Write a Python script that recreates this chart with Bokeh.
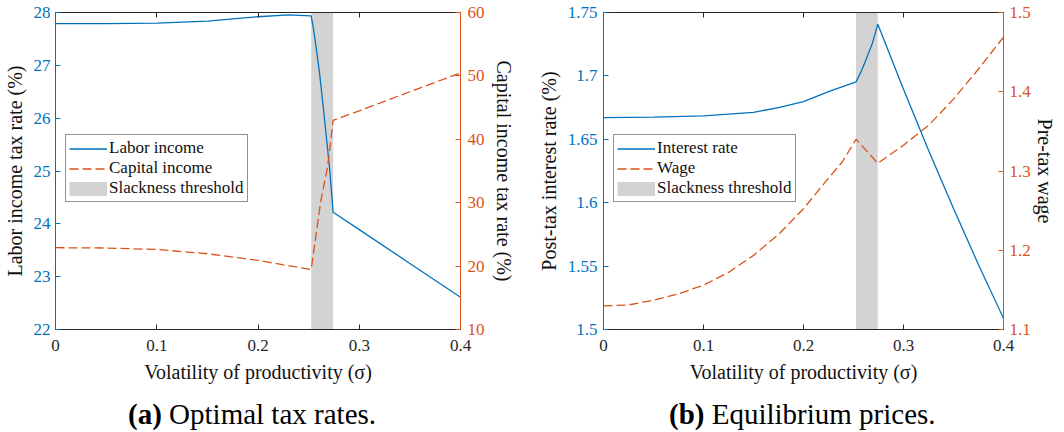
from bokeh.plotting import figure
from bokeh.models import (Range1d, LinearAxis, FixedTicker, CustomJSTickFormatter,
                          BoxAnnotation, Legend, LegendItem, Div)
from bokeh.layouts import row, column
from bokeh.embed import file_html
from bokeh.resources import INLINE

FONT = "Liberation Serif"
BLUE = "#0072BD"
ORANGE = "#D95319"
DARK = "#262626"
SHADE = "#D3D3D3"
NAN = float("nan")

# ---------------- data ----------------
x_ticks = [0, 0.1, 0.2, 0.3, 0.4]
x_tick_labels = ["0", "0.1", "0.2", "0.3", "0.4"]
slack = [0.2525, 0.2742]

# Panel (a): optimal tax rates
labor_x = [0, 0.05, 0.1, 0.15, 0.2, 0.23, 0.2525, 0.2545, 0.2575, 0.2611, 0.2648, 0.2709, 0.2742, 0.3, 0.35, 0.4]
labor_y = [27.79, 27.79, 27.80, 27.835, 27.92, 27.955, 27.935, 27.73, 27.33, 26.8, 26.15, 25.01, 24.22, 23.89, 23.25, 22.61]
capital_x = [0, 0.05, 0.1, 0.15, 0.2, 0.225, 0.2525, 0.2621, 0.2687, 0.2742, 0.3, 0.35, 0.4]
capital_y = [22.9, 22.85, 22.63, 21.95, 20.9, 20.2, 19.47, 30.37, 35.6, 43.0, 44.5, 47.5, 50.46]
a_left_ticks = [22, 23, 24, 25, 26, 27, 28]
a_left_labels = ["22", "23", "24", "25", "26", "27", "28"]
a_right_ticks = [10, 20, 30, 40, 50, 60]
a_right_labels = ["10", "20", "30", "40", "50", "60"]

# Panel (b): equilibrium prices
interest_x = [0, 0.05, 0.1, 0.15, 0.175, 0.2, 0.225, 0.2526, 0.258, 0.2634, 0.269, 0.2743, 0.3, 0.325, 0.35, 0.375, 0.4]
interest_y = [1.6671, 1.6675, 1.6684, 1.6712, 1.675, 1.6797, 1.6876, 1.6953, 1.704, 1.7146, 1.726, 1.7408, 1.6894, 1.6414, 1.5954, 1.5511, 1.5088]
wage_x = [0, 0.025, 0.05, 0.075, 0.1, 0.125, 0.15, 0.175, 0.2, 0.225, 0.2385, 0.2526, 0.2743, 0.3, 0.325, 0.35, 0.375, 0.4]
wage_y = [1.1298, 1.131, 1.137, 1.145, 1.156, 1.172, 1.1935, 1.22, 1.2524, 1.291, 1.311, 1.340, 1.3097, 1.3326, 1.3574, 1.3907, 1.4287, 1.469]
b_left_ticks = [1.5, 1.55, 1.6, 1.65, 1.7, 1.75]
b_left_labels = ["1.5", "1.55", "1.6", "1.65", "1.7", "1.75"]
b_right_ticks = [1.1, 1.2, 1.3, 1.4, 1.5]
b_right_labels = ["1.1", "1.2", "1.3", "1.4", "1.5"]

captions = [("(a)", "Optimal tax rates."), ("(b)", "Equilibrium prices.")]


def fmt(ticks, labels):
    return CustomJSTickFormatter(args=dict(tv=ticks, tl=labels), code="""
        for (let i = 0; i < tv.length; i++) {
            if (Math.abs(tv[i] - tick) < 1e-9) { return tl[i]; }
        }
        return "";
    """)


def style_axis(ax, line_color, label_color, ticks, labels, title, standoff, label_standoff):
    ax.ticker = FixedTicker(ticks=ticks)
    ax.formatter = fmt(ticks, labels)
    ax.axis_line_color = line_color
    ax.axis_line_width = 1
    ax.major_tick_line_color = line_color
    ax.major_tick_in = 5
    ax.major_tick_out = 0
    ax.minor_tick_line_color = None
    ax.major_label_text_font = FONT
    ax.major_label_text_font_size = "17px"
    ax.major_label_text_color = label_color
    ax.major_label_standoff = standoff
    ax.axis_label = title
    ax.axis_label_text_font = FONT
    ax.axis_label_text_font_size = "20px"
    ax.axis_label_text_font_style = "normal"
    ax.axis_label_text_color = "#111111"
    ax.axis_label_standoff = label_standoff


def make_panel(width, bl, br, yl, yr, ly_ticks, ly_labels, ry_ticks, ry_labels,
               ly_title, ry_title, s1, s2, n1, n2, l_stand, r_stand, caption, cap_pad):
    p = figure(width=width, height=396, output_backend="svg", toolbar_location=None,
               x_range=Range1d(0, 0.4), y_range=Range1d(*yl),
               min_border_left=bl, min_border_right=br, min_border_top=12, min_border_bottom=67)
    p.extra_y_ranges = {"r": Range1d(*yr)}
    p.xgrid.visible = False
    p.ygrid.visible = False
    p.outline_line_color = DARK
    p.outline_line_width = 1
    p.background_fill_color = "white"
    p.border_fill_color = "white"

    style_axis(p.xaxis[0], DARK, DARK, x_ticks, x_tick_labels,
               "Volatility of productivity (σ)", 10, 7)
    style_axis(p.yaxis[0], BLUE, BLUE, ly_ticks, ly_labels, ly_title, l_stand[0], l_stand[1])

    ra = LinearAxis(y_range_name="r")
    style_axis(ra, ORANGE, ORANGE, ry_ticks, ry_labels, ry_title, r_stand[0], r_stand[1])
    p.add_layout(ra, "right")

    ta = LinearAxis()
    style_axis(ta, DARK, DARK, x_ticks, x_tick_labels, "", 0, 0)
    ta.formatter = CustomJSTickFormatter(code="return '';")
    ta.major_label_text_font_size = "0px"
    ta.axis_label = None
    p.add_layout(ta, "above")

    p.add_layout(BoxAnnotation(left=slack[0], right=slack[1], fill_color=SHADE, fill_alpha=1,
                               line_alpha=0, level="underlay"))

    r1 = p.line(s1[0], s1[1], color=BLUE, line_width=1.3)
    r2 = p.line(s2[0], s2[1], color=ORANGE, line_width=1.3, line_dash="9 4", y_range_name="r")
    # legend proxy for the shaded threshold band (not drawn: NaN values)
    r3 = p.line(x=slack, y=[NAN, NAN], color=SHADE, line_width=14)

    legend = Legend(items=[LegendItem(label=n1, renderers=[r1]),
                           LegendItem(label=n2, renderers=[r2]),
                           LegendItem(label="Slackness threshold", renderers=[r3])],
                    location=(10, 127), label_text_font=FONT, label_text_font_size="17px",
                    label_text_color="#111111", glyph_width=38, glyph_height=19, label_height=19,
                    label_standoff=2, padding=3, spacing=0, margin=0,
                    border_line_color=DARK, border_line_width=1, background_fill_alpha=1)
    p.add_layout(legend)

    cap = Div(text=(f'<div style="margin-left:{cap_pad}px; white-space:nowrap; '
                    f'font-family:\'{FONT}\', serif; font-size:29px; line-height:27px; color:#000;">'
                    f'<b>{caption[0]}</b> {caption[1]}</div>'),
              width=width, height=20)
    return column(p, cap)


pa = make_panel(524, 49, 64, (22, 28), (10, 60), a_left_ticks, a_left_labels,
                a_right_ticks, a_right_labels,
                "Labor income tax rate (%)", "Capital income tax rate (%)",
                (labor_x, labor_y), (capital_x, capital_y), "Labor income", "Capital income",
                (5, 5), (7, 5), captions[0], 123)

pb = make_panel(524, 67, 50, (1.5, 1.75), (1.1, 1.5), b_left_ticks, b_left_labels,
                b_right_ticks, b_right_labels,
                "Post-tax interest rate (%)", "Pre-tax wage",
                (interest_x, interest_y), (wage_x, wage_y), "Interest rate", "Wage",
                (6, 5), (6, 0), captions[1], 130)

layout = row(pa, pb)
open("out.html", "w").write(file_html(layout, INLINE))
